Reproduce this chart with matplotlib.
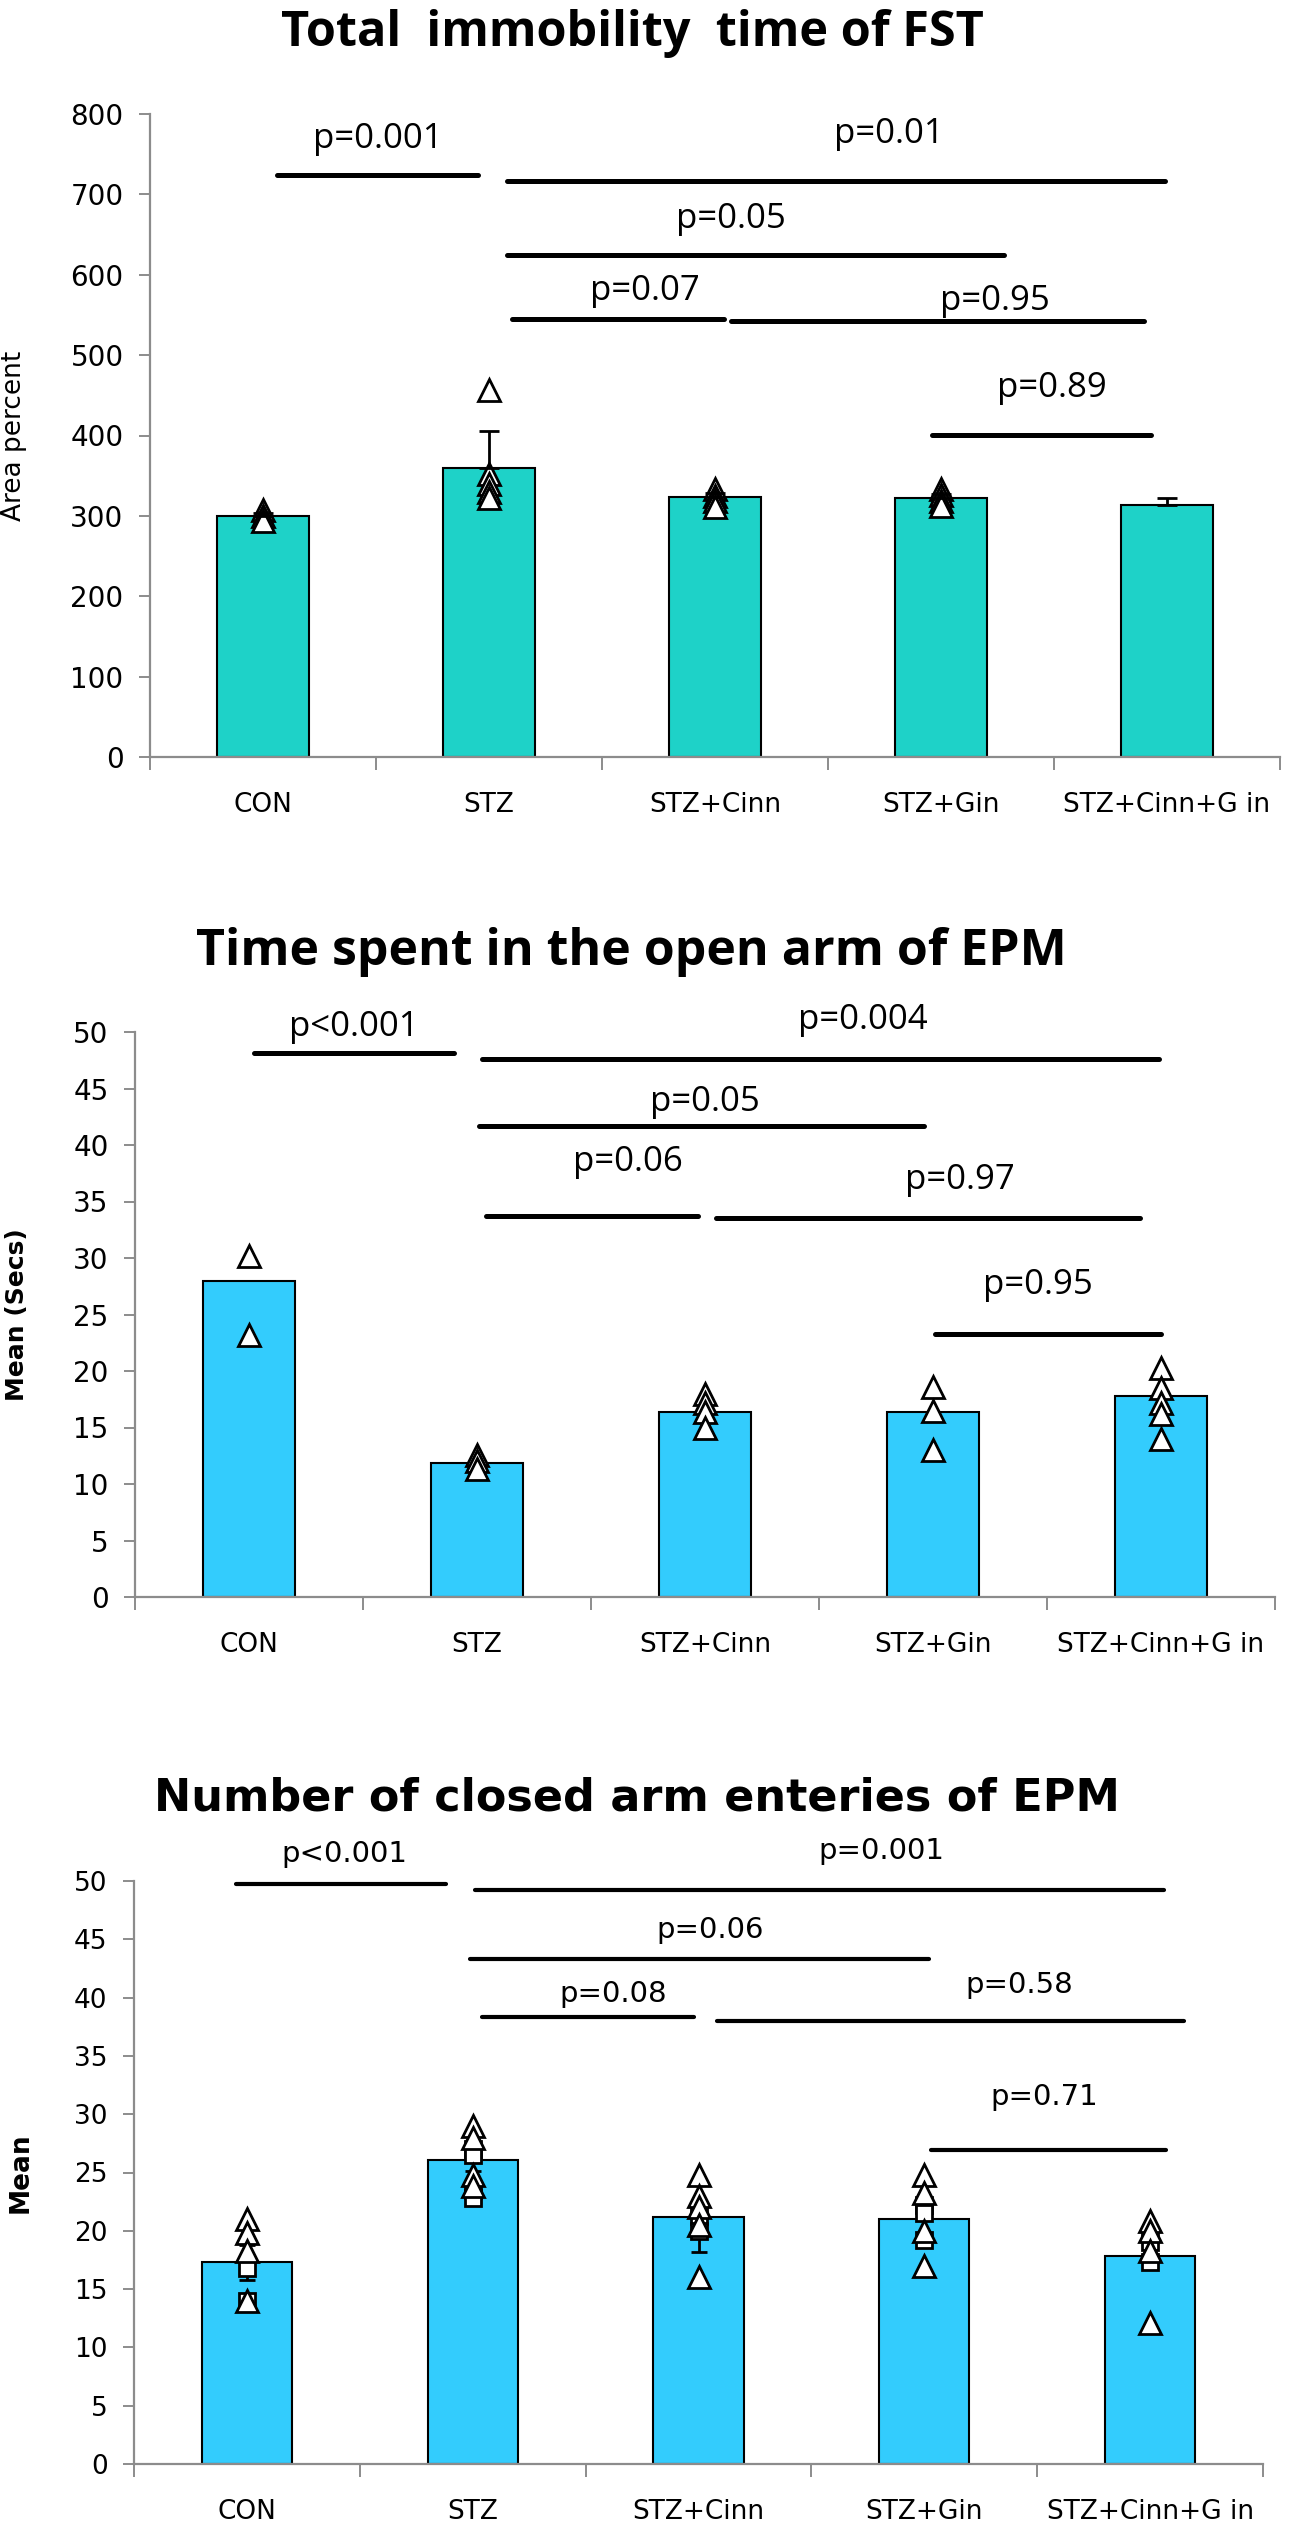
import matplotlib
matplotlib.use("Agg")
import matplotlib.pyplot as plt
import numpy as np

W, H = 1290, 2531

groups = ["CON", "STZ", "STZ+Cinn", "STZ+Gin", "STZ+Cinn+G in"]

# panel 1 - forced swim test
fst_mean = [300, 360, 323, 322, 314]
fst_err = [4, 46, 5, 5, 8]
fst_tri = [[307, 300, 294], [456, 352, 340, 330, 322], [333, 325, 318, 311],
           [334, 326, 318, 312], []]

# panel 2 - open arm time
open_mean = [28.0, 11.9, 16.4, 16.4, 17.8]
open_tri = [[30.2, 23.2], [12.6, 12.0, 11.3], [18.0, 17.2, 16.4, 15.0],
            [18.6, 16.5, 13.0], [20.3, 18.5, 17.2, 16.2, 14.0]]

# panel 3 - closed arm entries
closed_mean = [17.3, 26.1, 21.2, 21.0, 17.8]
closed_err = [1.5, 1.0, 3.0, 1.5, 1.0]
closed_tri = [[21.0, 19.8, 18.3, 14.0], [29.0, 28.0, 24.8, 23.8],
              [24.8, 23.0, 22.0, 20.5, 16.0], [24.8, 23.2, 20.0, 17.0],
              [20.8, 20.0, 18.3, 12.1]]
closed_sq = [[16.8, 14.0], [27.0, 26.5, 23.5, 22.8], [21.3, 20.0],
             [22.2, 21.5, 19.2], [19.0, 17.3]]

# comparisons: label, (from, to) in group index, line level, text x / level
fst_p = ["p=0.001", "p=0.01", "p=0.05", "p=0.07", "p=0.95", "p=0.89"]
fst_span = [(0.06, 0.95), (1.08, 3.99), (1.08, 3.28), (1.10, 2.04), (2.07, 3.90), (2.96, 3.93)]
fst_line = [724, 717, 625, 545, 542, 401]
fst_txt = [(0.51, 769), (2.77, 775), (2.07, 669), (1.69, 580), (3.24, 567), (3.49, 459)]

open_p = ["p<0.001", "p=0.004", "p=0.05", "p=0.06", "p=0.97", "p=0.95"]
open_span = [(0.02, 0.90), (1.02, 3.99), (1.01, 2.96), (1.04, 1.97), (2.05, 3.91), (3.01, 4.0)]
open_line = [48.1, 47.6, 41.7, 33.7, 33.5, 23.3]
open_txt = [(0.46, 50.4), (2.69, 51.1), (2.0, 43.8), (1.66, 38.5), (3.12, 36.9), (3.46, 27.6)]

closed_p = ["p<0.001", "p=0.001", "p=0.06", "p=0.08", "p=0.58", "p=0.71"]
closed_span = [(-0.05, 0.88), (1.01, 4.06), (0.99, 3.02), (1.04, 1.98), (2.08, 4.15), (3.03, 4.07)]
closed_line = [49.7, 49.2, 43.3, 38.3, 38.0, 26.9]
closed_txt = [(0.43, 52.3), (2.81, 52.6), (2.05, 45.8), (1.62, 40.3), (3.42, 41.1), (3.53, 31.5)]


def px_rect(left, right, top, bottom):
    return [left / W, 1 - bottom / H, (right - left) / W, (bottom - top) / H]


def setup_axes(ax, ymax, ystep, font, tick_size, lab_size):
    x = np.arange(len(groups))
    ax.set_xlim(-0.5, len(groups) - 0.5)
    ax.set_ylim(0, ymax)
    ax.set_yticks(np.arange(0, ymax + 1, ystep))
    ax.set_xticks(np.arange(-0.5, len(groups)), labels=[])
    ax.set_xticks(x, minor=True)
    ax.set_xticklabels(groups, minor=True, fontsize=lab_size, family=font)
    for lbl in ax.get_yticklabels():
        lbl.set_family(font)
        lbl.set_fontsize(tick_size)
    for s in ["top", "right"]:
        ax.spines[s].set_visible(False)
    for s in ["left", "bottom"]:
        ax.spines[s].set_color("#8c8c8c")
        ax.spines[s].set_linewidth(1.6)
    ax.tick_params(axis="y", direction="out", length=8, width=1.4, color="#8c8c8c", pad=11)
    ax.tick_params(axis="x", which="major", direction="out", length=9, width=1.4, color="#8c8c8c")
    ax.tick_params(axis="x", which="minor", length=0, pad=25)


def draw_sig(ax, labels, spans, lines, txts, font, size, lw):
    for lab, (a, b), y, (tx, ty) in zip(labels, spans, lines, txts):
        ax.plot([a, b], [y, y], color="black", lw=lw, solid_capstyle="round", clip_on=False)
        ax.text(tx, ty, lab, ha="center", va="center", fontsize=size, family=font, clip_on=False)


def draw_points(ax, pts, marker, ms):
    for i, vals in enumerate(pts):
        if len(vals):
            ax.plot([i] * len(vals), vals, linestyle="none", marker=marker, ms=ms,
                    mfc="white", mec="black", mew=2.0, zorder=4)


fig = plt.figure(figsize=(W / 100, H / 100), dpi=100)
x = np.arange(len(groups))
calibri_like = "Open Sans"
verdana_like = "DejaVu Sans"

# ---- panel 1
ax1 = fig.add_axes(px_rect(150, 1280, 114, 757))
ax1.bar(x, fst_mean, width=0.41, color="#1ed2c8", edgecolor="black", linewidth=1.5, zorder=2)
ax1.errorbar(x, fst_mean, yerr=[np.zeros(5), fst_err], fmt="none", ecolor="black",
             elinewidth=2, capsize=7, capthick=2, zorder=5)
draw_points(ax1, fst_tri, "^", 16)
setup_axes(ax1, 800, 100, verdana_like, 20, 19)
ax1.set_ylabel("Area percent", fontsize=19, family=verdana_like)
ax1.yaxis.set_label_coords(-0.109, 0.5)
draw_sig(ax1, fst_p, fst_span, fst_line, fst_txt, calibri_like, 25, 3.6)
fig.text(632 / W, 1 - 34 / H, "Total  immobility  time of FST", ha="center", va="center",
         fontsize=35, fontweight="bold", family=calibri_like)

# ---- panel 2
ax2 = fig.add_axes(px_rect(135, 1275, 1032, 1597))
ax2.bar(x, open_mean, width=0.40, color="#33ccfd", edgecolor="black", linewidth=1.5, zorder=2)
draw_points(ax2, open_tri, "^", 16)
setup_axes(ax2, 50, 5, verdana_like, 20, 19)
ax2.set_ylabel("Mean (Secs)", fontsize=18, fontweight="bold", family=verdana_like)
ax2.yaxis.set_label_coords(-0.093, 0.5)
draw_sig(ax2, open_p, open_span, open_line, open_txt, calibri_like, 25, 3.6)
fig.text(631 / W, 1 - 952 / H, "Time spent in the open arm of EPM", ha="center", va="center",
         fontsize=36, fontweight="bold", family=calibri_like)

# ---- panel 3
ax3 = fig.add_axes(px_rect(134, 1263, 1881, 2464))
ax3.bar(x, closed_mean, width=0.40, color="#33ccfd", edgecolor="black", linewidth=1.5, zorder=2)
ax3.errorbar(x, closed_mean, yerr=[closed_err, closed_err], fmt="none", ecolor="black",
             elinewidth=2, capsize=6, capthick=2, zorder=3)
draw_points(ax3, closed_sq, "s", 12)
draw_points(ax3, closed_tri, "^", 16)
setup_axes(ax3, 50, 5, verdana_like, 19, 19)
ax3.set_ylabel("Mean", fontsize=19, fontweight="bold", family=verdana_like)
ax3.yaxis.set_label_coords(-0.089, 0.5)
draw_sig(ax3, closed_p, closed_span, closed_line, closed_txt, verdana_like, 21, 3.0)
fig.text(637 / W, 1 - 1798 / H, "Number of closed arm enteries of EPM", ha="center", va="center",
         fontsize=32, fontweight="bold", family=verdana_like)

fig.savefig("out.png", dpi=100)
